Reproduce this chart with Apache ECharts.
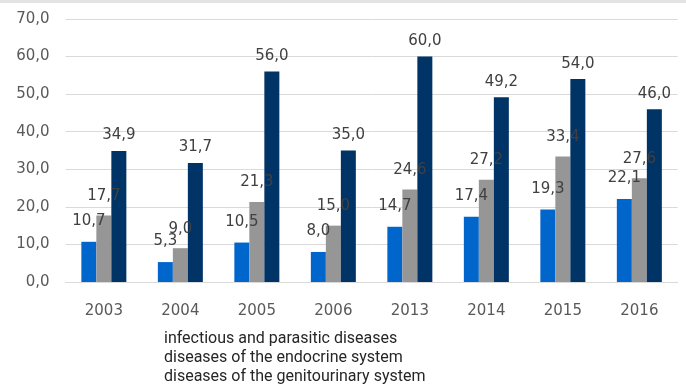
<!DOCTYPE html>
<html>
<head>
<meta charset="utf-8">
<script src="https://cdn.jsdelivr.net/npm/echarts@6/dist/echarts.min.js"></script>
<style>html,body{margin:0;padding:0;background:#fff}#c{width:686px;height:387px}</style>
</head>
<body>
<div id="c"></div>
<script>
const categories = ['2003','2004','2005','2006','2013','2014','2015','2016'];
const seriesNames = ['infectious and parasitic diseases','diseases of the endocrine system','diseases of the genitourinary system'];
const infectious = [10.7, 5.3, 10.5, 8.0, 14.7, 17.4, 19.3, 22.1];
const endocrine = [17.7, 9.0, 21.3, 15.0, 24.6, 27.2, 33.4, 27.6];
const genitourinary = [34.9, 31.7, 56.0, 35.0, 60.0, 49.2, 54.0, 46.0];
const colors = ['#0066CC', '#969696', '#003366'];
const labelDist = [13, 12, 8];

const fmt = p => p.value.toFixed(1).replace('.', ',');
const values = [infectious, endocrine, genitourinary];

const chart = echarts.init(document.getElementById('c'), null, {renderer: 'canvas'});
chart.setOption({
  animation: false,
  backgroundColor: '#fff',
  graphic: [{type: 'rect', left: 0, top: 0, shape: {width: 686, height: 3}, style: {fill: '#e3e3e3'}}],
  grid: {left: 65.6, right: 8.4, top: 19, bottom: 105},
  legend: {
    orient: 'vertical', left: 159, top: 331, height: 56, padding: 0,
    itemWidth: 0, itemHeight: 0, itemGap: 3,
    icon: 'rect', selectedMode: false,
    textStyle: {fontFamily: 'Roboto', fontSize: 16, color: '#262626', lineHeight: 16},
    data: seriesNames
  },
  xAxis: {
    type: 'category', data: categories,
    axisLine: {lineStyle: {color: '#d9d9d9', width: 1}},
    axisTick: {show: false},
    axisLabel: {fontFamily: 'DejaVu Sans', fontSize: 15, color: '#595959', margin: 22}
  },
  yAxis: {
    type: 'value', min: 0, max: 70, interval: 10,
    axisLine: {show: false}, axisTick: {show: false},
    splitLine: {lineStyle: {color: '#d9d9d9', width: 1}},
    axisLabel: {fontFamily: 'DejaVu Sans', fontSize: 15, color: '#595959', margin: 16,
      formatter: v => v.toFixed(1).replace('.', ',')}
  },
  series: seriesNames.map((n, i) => ({
    name: n, type: 'bar', data: values[i], barWidth: 15, barGap: '0%',
    itemStyle: {color: colors[i]},
    label: {show: true, position: 'top', distance: labelDist[i], formatter: fmt,
      fontFamily: 'DejaVu Sans', fontSize: 15, color: '#404040'}
  }))
});
</script>
</body>
</html>
